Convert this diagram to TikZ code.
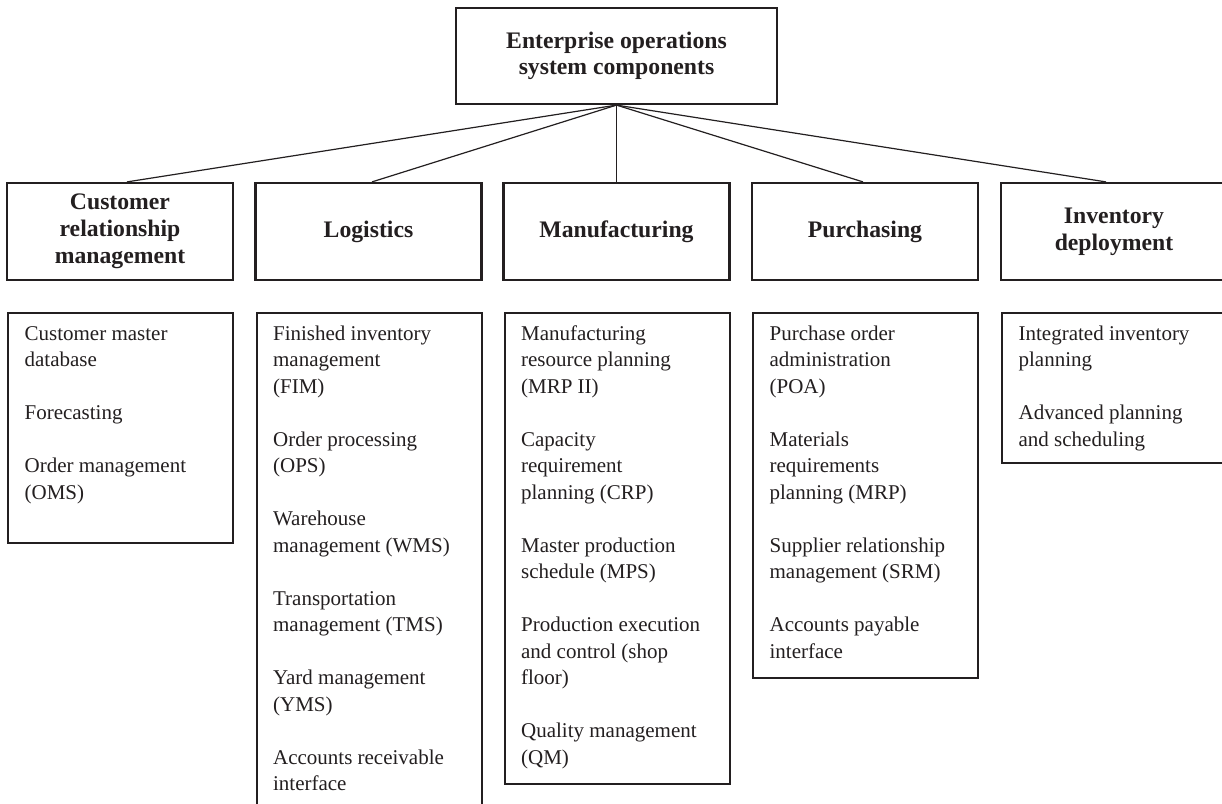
\documentclass[tikz,border=0pt]{standalone}
\usepackage{fontspec}
\setmainfont{Liberation Serif}
\usetikzlibrary{calc}
\newcommand\bsk{26.5pt}
\newcommand\mylist[2]{\parbox[t][#1][t]{192pt}{\strut#2}}
\definecolor{ink}{HTML}{231F20}
\tikzset{
  boxline/.style={draw=ink, line width=2.2pt, text=ink},
  topbox/.style={boxline, minimum width=321pt, minimum height=96pt, align=center, inner sep=0pt,
    font=\fontsize{23.7}{26}\selectfont\bfseries},
  catbox/.style={boxline, minimum width=226pt, minimum height=97pt, align=center, inner sep=0pt,
    font=\fontsize{23.7}{27}\selectfont\bfseries},
  listbox/.style={boxline, anchor=north west, inner xsep=16.5pt, inner ysep=8.45pt,
    font=\fontsize{21}{26.5}\selectfont},
  link/.style={draw=ink, line width=1.2pt},
}
\begin{document}
\begin{tikzpicture}[x=1pt,y=-1pt]
\useasboundingbox (0,0) rectangle (1222,803);
\clip (0,0) rectangle (1222,803);
\fill[white] (0,0) rectangle (1222,803);

\node[topbox] (top) at (616.5,56) {Enterprise operations\\system components};

\node[catbox] (crm) at (120,231.5) {Customer\\relationship\\management};
\node[catbox] (log) at (368.5,231.5) {Logistics};
\node[catbox] (man) at (616.5,231.5) {Manufacturing};
\node[catbox] (pur) at (865,231.5) {Purchasing};
\node[catbox] (inv) at (1114,231.5) {Inventory\\deployment};

\node[listbox] (crmL) at (7,312) {\mylist{213pt}{Customer master\\database\\[\bsk]Forecasting\\[\bsk]Order management\\(OMS)}};
\node[listbox] (logL) at (255.5,312) {\mylist{501pt}{Finished inventory\\management\\(FIM)\\[\bsk]Order processing\\(OPS)\\[\bsk]Warehouse\\management (WMS)\\[\bsk]Transportation\\management (TMS)\\[\bsk]Yard management\\(YMS)\\[\bsk]Accounts receivable\\interface}};
\node[listbox] (manL) at (503.5,312) {\mylist{454pt}{Manufacturing\\resource planning\\(MRP II)\\[\bsk]Capacity\\requirement\\planning (CRP)\\[\bsk]Master production\\schedule (MPS)\\[\bsk]Production execution\\and control (shop\\floor)\\[\bsk]Quality management\\(QM)}};
\node[listbox] (purL) at (752,312) {\mylist{348pt}{Purchase order\\administration\\(POA)\\[\bsk]Materials\\requirements\\planning (MRP)\\[\bsk]Supplier relationship\\management (SRM)\\[\bsk]Accounts payable\\interface}};
\node[listbox] (invL) at (1001,312) {\mylist{133pt}{Integrated inventory\\planning\\[\bsk]Advanced planning\\and scheduling}};

\draw[link] (top.south) -- ([xshift=7pt]crm.north);
\draw[link] (top.south) -- ([xshift=3.5pt]log.north);
\draw[link] (top.south) -- (man.north);
\draw[link] (top.south) -- ([xshift=-2pt]pur.north);
\draw[link] (top.south) -- ([xshift=-8pt]inv.north);
\end{tikzpicture}
\end{document}
